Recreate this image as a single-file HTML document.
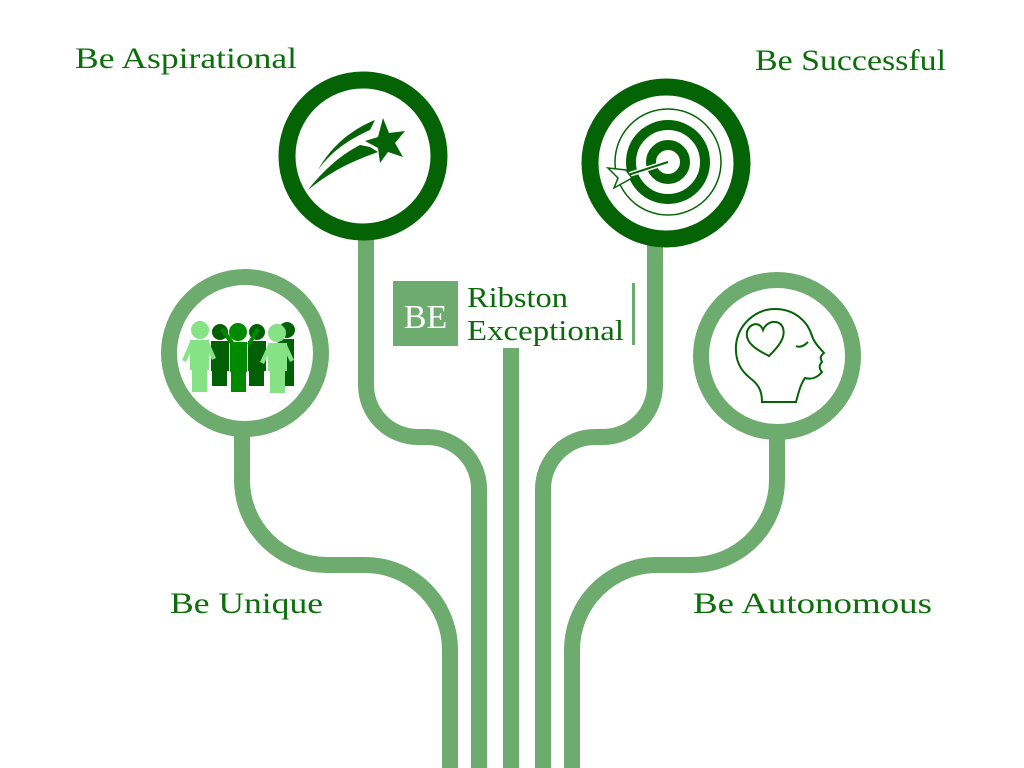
<!DOCTYPE html>
<html><head><meta charset="utf-8"><style>
html,body{margin:0;padding:0;background:#fff;}
svg{display:block}
text{font-family:"Liberation Serif",serif;}
</style></head><body>
<svg width="1024" height="768" viewBox="0 0 1024 768" xmlns="http://www.w3.org/2000/svg">
<g fill="none" stroke="#6dab6e" stroke-width="16">
<path d="M242 430 V480 A85 85 0 0 0 327 565 H365 A85 85 0 0 1 450 650 V768"/>
<path d="M366 235 V385 A52 52 0 0 0 418 437 H427 A52 52 0 0 1 479 489 V768"/>
<path d="M511 348 V768"/>
<path d="M655 240 V385 A52 52 0 0 1 603 437 H595 A52 52 0 0 0 543 489 V768"/>
<path d="M777 430 V480 A85 85 0 0 1 692 565 H657 A85 85 0 0 0 572 650 V768"/>
</g>
<circle cx="245" cy="353" r="76" fill="#fff" stroke="#6dab6e" stroke-width="16"/>
<circle cx="777" cy="356" r="76" fill="#fff" stroke="#6dab6e" stroke-width="16"/>
<circle cx="363" cy="156" r="76" fill="#fff" stroke="#046304" stroke-width="17"/>
<circle cx="666" cy="163" r="76" fill="#fff" stroke="#046304" stroke-width="17"/>
<g fill="#046304">
<polygon points="383,118 389,133 405,131 395,143 403,157 388,152 380,163 378,148 365,141 378,137"/>
<path d="M375 120 C350 130 330 148 318 170 C332 150 352 138 370 130 Z"/>
<path d="M360 145 C340 155 322 172 308 190 C330 172 350 162 378 152 L370 147 Z"/>
</g>
<circle cx="668" cy="162" r="53" fill="none" stroke="#046304" stroke-width="1.5"/>
<circle cx="668" cy="162" r="37" fill="none" stroke="#046304" stroke-width="10"/>
<circle cx="668" cy="162" r="17" fill="none" stroke="#046304" stroke-width="10"/>
<line x1="668" y1="162" x2="628" y2="175" stroke="#fff" stroke-width="5"/>
<line x1="668" y1="162" x2="628" y2="175" stroke="#046304" stroke-width="2"/>
<path d="M608 168 L626 170 L632 178 L614 188 L618 178 Z" fill="#fff" stroke="#046304" stroke-width="1.5"/>
<g>
<g fill="#035f03">
<circle cx="220" cy="332" r="8"/><rect x="211" y="341" width="18" height="30"/><rect x="212" y="370" width="15" height="16"/>
<circle cx="257" cy="332" r="8"/><rect x="248" y="341" width="18" height="30"/><rect x="249" y="370" width="15" height="16"/>
<circle cx="287" cy="330" r="8"/><rect x="278" y="339" width="16" height="30"/><rect x="280" y="368" width="14" height="18"/>
</g>
<g fill="#008a00">
<circle cx="238" cy="332" r="9"/><rect x="230" y="342" width="17" height="30"/><rect x="231" y="370" width="15" height="22"/>
<path d="M230 344 L220 330 L224 328 L234 342Z M247 344 L256 328 L260 330 L250 346Z"/>
</g>
<g fill="#85e285">
<circle cx="200" cy="330" r="9"/><rect x="190" y="340" width="19" height="30"/><rect x="192" y="368" width="15" height="24"/>
<path d="M190 342 L182 360 L186 362 L193 346Z M209 342 L216 358 L212 360 L206 346Z"/>
<circle cx="277" cy="333" r="9"/><rect x="268" y="343" width="19" height="28"/><rect x="270" y="369" width="15" height="24"/>
<path d="M268 345 L260 362 L264 364 L271 349Z M287 345 L294 360 L290 362 L284 349Z"/>
</g>
</g>
<g fill="none" stroke="#046304" stroke-width="2">
<path d="M762 402 C762 390 758 384 750 378 C740 370 735 360 736 345 C738 325 755 309 775 309 C795 309 808 322 812 336 C815 345 822 350 824 353 C820 356 820 358 822 362 C818 366 820 370 822 372 C818 377 812 380 805 378 C800 385 798 395 796 402 Z"/>
<path d="M769 356 C757 350 745 343 747 332 C749 323 760 321 763 330 C767 320 780 319 783 328 C786 338 778 347 769 356 Z"/>
<path d="M796 346 C800 348 804 346 808 342"/>
</g>
<rect x="393" y="281" width="65" height="65" fill="#6dab6e"/>
<text x="425.5" y="328" font-size="34" fill="#fff" text-anchor="middle">BE</text>
<text x="467" y="307" font-size="28" fill="#0b6b0b" textLength="101" lengthAdjust="spacingAndGlyphs">Ribston</text>
<text x="467" y="340" font-size="28" fill="#0b6b0b" textLength="157" lengthAdjust="spacingAndGlyphs">Exceptional</text>
<rect x="632" y="283" width="3" height="62" fill="#6dab6e"/>
<g font-size="30" fill="#0b6e0b">
<text x="75" y="68" textLength="222" lengthAdjust="spacingAndGlyphs">Be Aspirational</text>
<text x="755" y="70" textLength="191" lengthAdjust="spacingAndGlyphs">Be Successful</text>
<text x="170" y="613" textLength="153" lengthAdjust="spacingAndGlyphs">Be Unique</text>
<text x="693" y="613" textLength="239" lengthAdjust="spacingAndGlyphs">Be Autonomous</text>
</g>
</svg>
</body></html>
